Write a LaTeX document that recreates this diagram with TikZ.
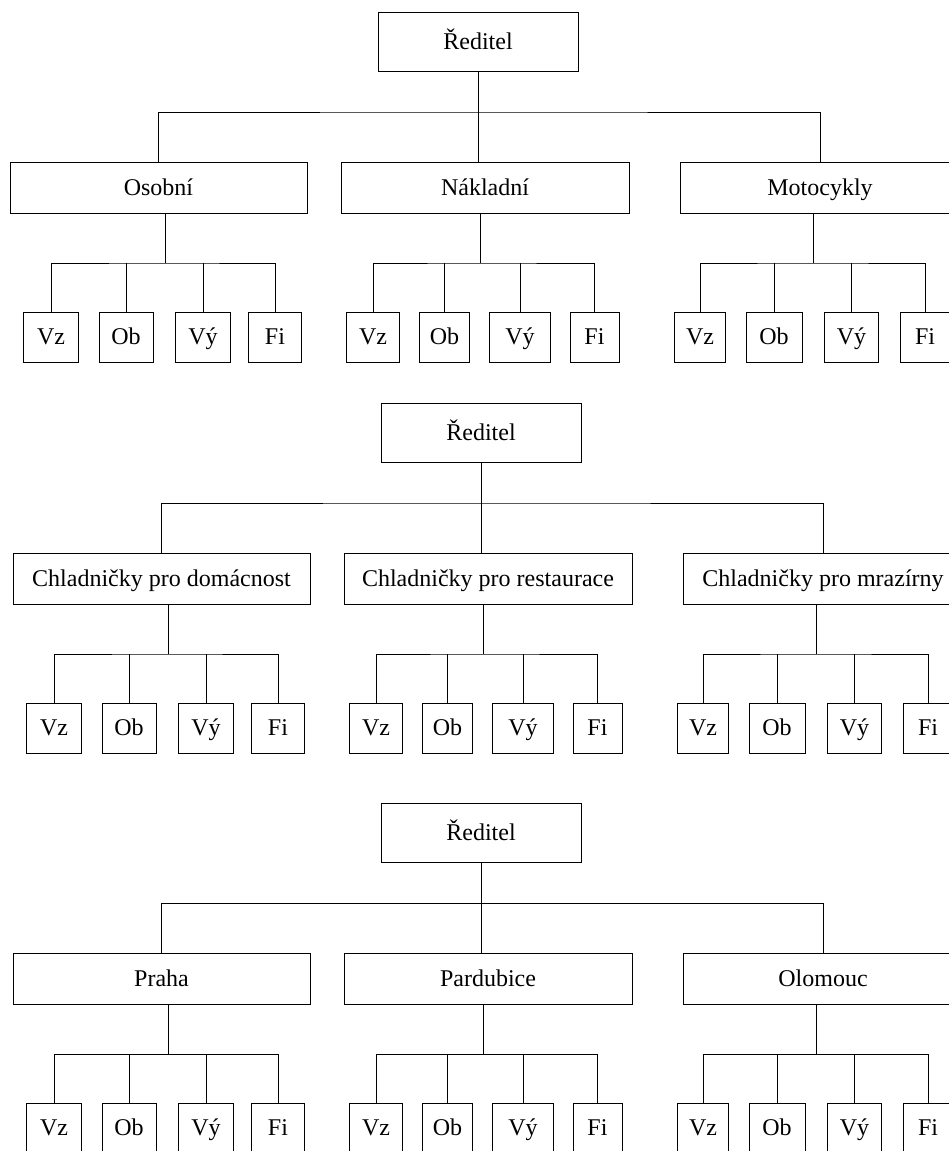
\documentclass[tikz,border=0pt]{standalone}
\usepackage{fontspec}
\setmainfont{Liberation Serif}
\tikzset{
  box/.style={draw, line width=0.8pt, inner sep=0pt, text height=17pt, text depth=2pt,
    font=\fontsize{24}{28}\selectfont},
  headbox/.style={box, minimum height=59pt},
  midbox/.style={box, minimum height=51pt},
  kid/.style={box, minimum height=50pt},
  link/.style={line width=0.8pt}
}
\newcommand{\orgtree}[4]{%
  \node[headbox, minimum width=200pt] (#1r) at (481,432.5) {Ředitel};
  \node[midbox, minimum width=297pt] (#1a) at (161.5,578.5) {#2};
  \node[midbox, minimum width=288pt] (#1b) at (488,578.5) {#3};
  \node[midbox, minimum width=280pt] (#1c) at (823,578.5) {#4};
  % children of a
  \node[kid, minimum width=55pt] (#1a1) at (54,728) {Vz};
  \node[kid, minimum width=54pt] (#1a2) at (129,728) {Ob};
  \node[kid, minimum width=55pt] (#1a3) at (206,728) {Vý};
  \node[kid, minimum width=53pt] (#1a4) at (278,728) {Fi};
  % children of b
  \node[kid, minimum width=53pt] (#1b1) at (376,728) {Vz};
  \node[kid, minimum width=50pt] (#1b2) at (447.5,728) {Ob};
  \node[kid, minimum width=61pt] (#1b3) at (523,728) {Vý};
  \node[kid, minimum width=49pt] (#1b4) at (597.5,728) {Fi};
  % children of c
  \node[kid, minimum width=51pt] (#1c1) at (703,728) {Vz};
  \node[kid, minimum width=56pt] (#1c2) at (777,728) {Ob};
  \node[kid, minimum width=54pt] (#1c3) at (854.5,728) {Vý};
  \node[kid, minimum width=50pt] (#1c4) at (928,728) {Fi};
  % level 1 connectors
  \coordinate (#1bar) at (481,503);
  \draw[link] (#1r.south) -- (#1r.south |- #1b.north);
  \draw[link] (#1a.north) |- (#1bar) -| (#1c.north);
  % level 2 connectors
  \coordinate (#1ak) at (168,654);
  \coordinate (#1bk) at (483,654);
  \coordinate (#1ck) at (816,654);
  \foreach \p in {a,b,c}{
    \draw[link] (#1\p.south -| #1\p k) -- (#1\p k);
    \draw[link] (#1\p1.north) |- (#1\p k) -| (#1\p4.north);
    \draw[link] (#1\p2.north) -- (#1\p2.north |- #1\p k);
    \draw[link] (#1\p3.north) -- (#1\p3.north |- #1\p k);
  }
}
\begin{document}
\begin{tikzpicture}[x=1pt,y=-1pt]
  \useasboundingbox (0,0) rectangle (949,1151);
  \clip (0,0) rectangle (949,1151);
  \begin{scope}[shift={(-3,-391)}]
    \orgtree{t}{Osobní}{Nákladní}{Motocykly}
  \end{scope}
  \begin{scope}
    \orgtree{m}{Chladničky pro domácnost}{Chladničky pro restaurace}{Chladničky pro mrazírny}
  \end{scope}
  \begin{scope}[shift={(0,400)}]
    \orgtree{b}{Praha}{Pardubice}{Olomouc}
  \end{scope}
\end{tikzpicture}
\end{document}
